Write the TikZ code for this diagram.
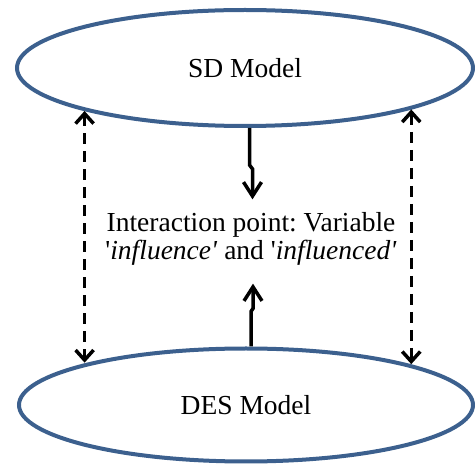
\documentclass[tikz,border=0pt]{standalone}
\usepackage{fontspec}
\setmainfont{LiberationSerif}[Extension=.ttf, UprightFont=*-Regular,
    ItalicFont=*-Italic, BoldFont=*-Bold, BoldItalicFont=*-BoldItalic]
\usetikzlibrary{shapes.geometric,arrows.meta}
\definecolor{myblue}{RGB}{60,96,142}

\begin{document}
\frenchspacing
\begin{tikzpicture}[x=1pt, y=1pt,
    model/.style={ellipse, draw=myblue, line width=4pt, inner sep=0pt,
        font=\fontsize{27.5}{28}\selectfont},
    solidarr/.style={-{Straight Barb[length=14pt,width=18pt]}, line width=3.5pt},
    dasharr/.style={{Straight Barb[length=10pt,width=18pt]}-{Straight Barb[length=10pt,width=18pt]},
        line width=3.5pt, dash pattern=on 11pt off 7pt}]
    \useasboundingbox (0,0) rectangle (475,464);
    % The two models.
    \node[model, minimum width=456pt, minimum height=116pt] (sd) at (245,396) {SD Model};
    \node[model, minimum width=454pt, minimum height=113pt] (des) at (246,59) {DES Model};
    % Interaction point between them.
    \node[align=center, inner xsep=4pt, inner ysep=13pt, font=\fontsize{27.5}{28}\selectfont]
        (ip) at (251,225) {Interaction point: Variable\\
        \textquotesingle\textit{influence\textquotesingle} and
        \textquotesingle\textit{influenced\textquotesingle}};
    \draw[solidarr] ([xshift=-1.5pt]sd.south -| ip.north) -- ++(0,-37) -- ++(3,-4)
        -- ([xshift=1.5pt]ip.north);
    \draw[solidarr, shorten >=5pt] (des.north -| ip.south) -- ++(0,35) -- ++(2,3)
        -- ([xshift=2pt]ip.south);
    \draw[dasharr] (sd.195) -- (sd.195 |- des.165);
    \draw[dasharr] (sd.346) -- (sd.346 |- des.14);
\end{tikzpicture}
\end{document}
